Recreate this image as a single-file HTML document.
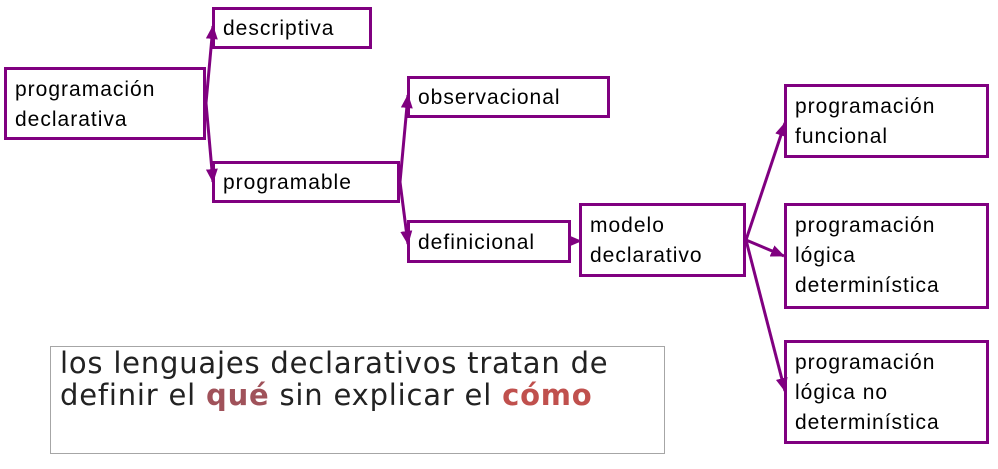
<!DOCTYPE html>
<html><head><meta charset="utf-8"><style>
body{margin:0;width:998px;height:469px;background:#fff;position:relative;overflow:hidden;font-family:"Liberation Sans",sans-serif}
.b{position:absolute;box-sizing:border-box;border:3px solid #800080;background:#fff;font-size:21px;letter-spacing:1px;line-height:30px;padding:5px 0 0 8px;color:#000;white-space:nowrap}
svg{position:absolute;left:0;top:0;z-index:2}
.t{position:absolute;left:50px;top:346px;width:615px;height:108px;box-sizing:border-box;border:1.5px solid #a6a6a6;padding:0 0 0 9px;font-family:"DejaVu Sans",sans-serif;font-size:29px;line-height:32px;color:#222;letter-spacing:0.8px;white-space:nowrap}
</style></head><body>
<svg width="998" height="469"><defs><marker id="a" markerWidth="14" markerHeight="12" refX="13" refY="6" orient="auto" markerUnits="userSpaceOnUse"><path d="M0,0 L14,6 L0,12z" fill="#800080"/></marker></defs>
<g stroke="#800080" stroke-width="3" fill="none" marker-end="url(#a)">
<path d="M206,103 L213,26"/><path d="M206,103 L213,182"/>
<path d="M400,182 L408,95"/><path d="M400,182 L408,244"/>
<path d="M571,241 L581,241"/>
<path d="M746,240 L785,123"/><path d="M746,240 L784,256"/><path d="M746,240 L785,391"/>
</g></svg>
<div class="b" style="left:4px;top:67px;width:202px;height:73px;padding-top:5px">programación<br>declarativa</div>
<div class="b" style="left:212px;top:7px;width:160px;height:42px;padding-top:4px">descriptiva</div>
<div class="b" style="left:212px;top:161px;width:188px;height:42px;padding-top:4px">programable</div>
<div class="b" style="left:407px;top:76px;width:203px;height:42px;padding-top:4px">observacional</div>
<div class="b" style="left:407px;top:220px;width:164px;height:43px;padding-top:5px">definicional</div>
<div class="b" style="left:579px;top:203px;width:167px;height:74px;padding-top:5px">modelo<br>declarativo</div>
<div class="b" style="left:784px;top:84px;width:205px;height:74px;padding-top:5px">programación<br>funcional</div>
<div class="b" style="left:784px;top:203px;width:205px;height:106px;padding-top:5px">programación<br>lógica<br>determinística</div>
<div class="b" style="left:784px;top:340px;width:205px;height:104px;padding-top:5px">programación<br>lógica no<br>determinística</div>
<div class="t">los lenguajes declarativos tratan de<br>definir el <b style="color:#a0525a">qué</b> sin explicar el <b style="color:#c0504d">cómo</b></div>
</body></html>
